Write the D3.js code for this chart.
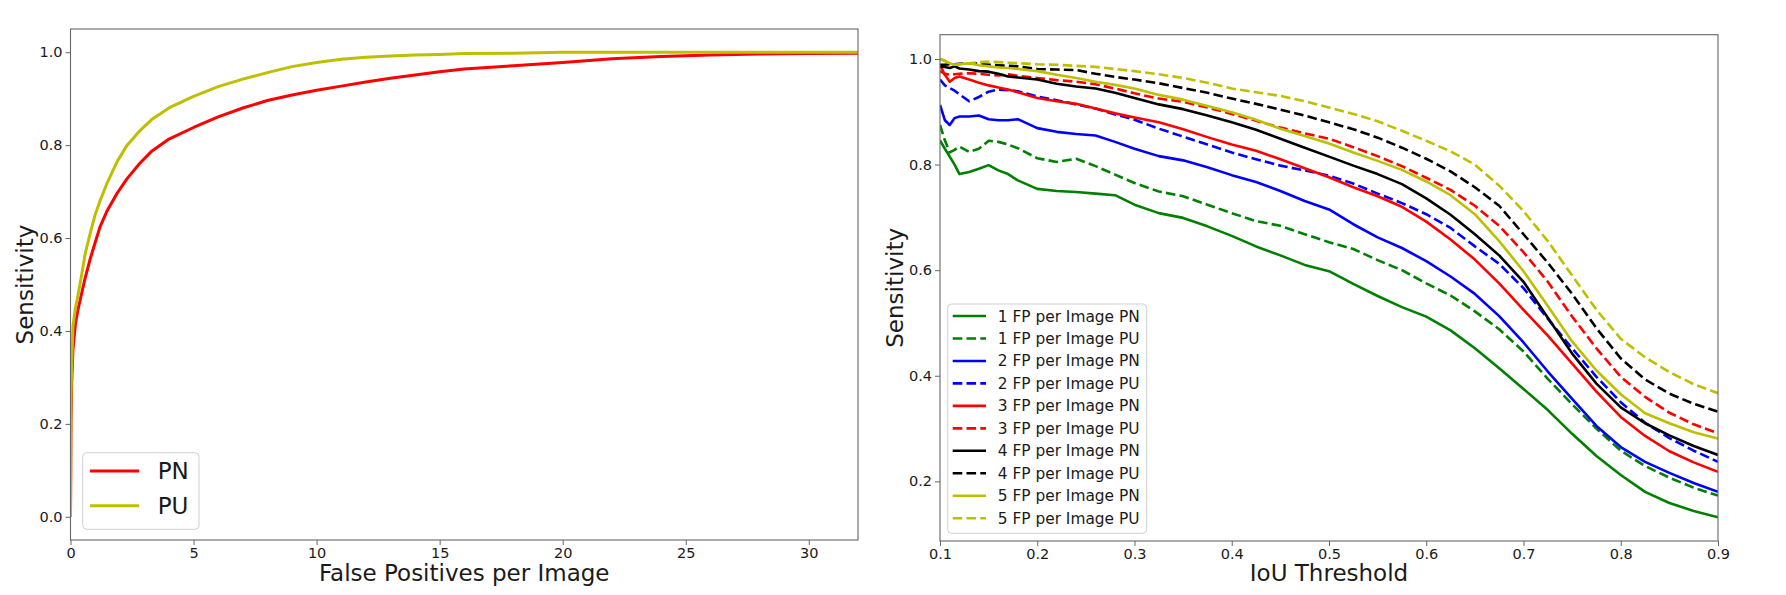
<!DOCTYPE html>
<meta charset="utf-8">
<style>

body {
    margin: 0;
    background: #fff;
}

text {
    font-family: 'DejaVu Sans', sans-serif;
    fill: #1a1a1a;
}

.axis text {
    font-size: 14.5px;
}

.axis path,
.axis line {
    stroke: #666;
}

.frame {
    fill: none;
    stroke: #666;
    stroke-width: 1.1;
}

.curve {
    fill: none;
    stroke-linejoin: round;
}

</style>
<svg id="charts" width="1786" height="595"></svg>
<script src="https://d3js.org/d3.v7.min.js"></script>

<script>

    // left panel: sensitivity vs false positives per image
    var fpPerImage = [0, 0.02, 0.05, 0.1, 0.2, 0.3, 0.45, 0.6, 0.8, 1.0, 1.2, 1.5, 1.9, 2.3, 2.8, 3.3, 4, 5, 6, 7, 8, 9, 10, 11, 12, 13, 14, 15, 16, 18, 20, 22, 24, 26, 28, 30, 32];
    var frocPN = [0, 0.2, 0.29, 0.36, 0.415, 0.445, 0.48, 0.515, 0.555, 0.59, 0.624, 0.66, 0.697, 0.728, 0.76, 0.787, 0.813, 0.838, 0.861, 0.88, 0.896, 0.908, 0.918, 0.927, 0.936, 0.944, 0.951, 0.958, 0.964, 0.971, 0.978, 0.986, 0.991, 0.994, 0.996, 0.997, 0.998];
    var frocPU = [0, 0.25, 0.33, 0.41, 0.45, 0.475, 0.52, 0.567, 0.61, 0.65, 0.68, 0.72, 0.765, 0.8, 0.83, 0.855, 0.88, 0.905, 0.926, 0.942, 0.956, 0.969, 0.978, 0.985, 0.989, 0.992, 0.994, 0.995, 0.997, 0.998, 1.0, 1.0, 1.0, 1.0, 1.0, 1.0, 1.0];
    var fpTicks = [0, 5, 10, 15, 20, 25, 30];
    var sensTicksLeft = [0.0, 0.2, 0.4, 0.6, 0.8, 1.0];

    // right panel: sensitivity vs IoU threshold
    var iouThreshold = [0.100, 0.105, 0.110, 0.115, 0.120, 0.130, 0.140, 0.150, 0.160, 0.170, 0.180, 0.200, 0.220, 0.240, 0.260, 0.280, 0.300, 0.325, 0.350, 0.375, 0.400, 0.425, 0.450, 0.475, 0.500, 0.525, 0.550, 0.575, 0.600, 0.625, 0.650, 0.675, 0.700, 0.725, 0.750, 0.775, 0.800, 0.825, 0.850, 0.875, 0.900];
    var fp1PN = [0.846, 0.830, 0.815, 0.800, 0.782, 0.786, 0.792, 0.799, 0.789, 0.782, 0.770, 0.754, 0.750, 0.748, 0.745, 0.742, 0.724, 0.708, 0.699, 0.683, 0.665, 0.645, 0.628, 0.610, 0.598, 0.574, 0.551, 0.530, 0.512, 0.486, 0.452, 0.414, 0.375, 0.335, 0.290, 0.248, 0.212, 0.180, 0.159, 0.144, 0.132];
    var fp1PU = [0.875, 0.846, 0.823, 0.828, 0.834, 0.824, 0.830, 0.845, 0.843, 0.838, 0.831, 0.812, 0.805, 0.811, 0.797, 0.781, 0.765, 0.749, 0.740, 0.724, 0.708, 0.693, 0.684, 0.668, 0.653, 0.640, 0.619, 0.600, 0.575, 0.552, 0.522, 0.488, 0.446, 0.394, 0.346, 0.300, 0.258, 0.229, 0.207, 0.188, 0.173];
    var fp2PN = [0.913, 0.884, 0.875, 0.888, 0.891, 0.891, 0.893, 0.886, 0.884, 0.884, 0.886, 0.869, 0.862, 0.858, 0.855, 0.843, 0.830, 0.816, 0.808, 0.795, 0.780, 0.767, 0.750, 0.731, 0.715, 0.687, 0.662, 0.642, 0.617, 0.588, 0.555, 0.513, 0.463, 0.408, 0.356, 0.305, 0.265, 0.237, 0.216, 0.197, 0.180];
    var fp2PU = [0.961, 0.950, 0.945, 0.940, 0.933, 0.920, 0.928, 0.938, 0.942, 0.941, 0.939, 0.929, 0.922, 0.914, 0.906, 0.895, 0.885, 0.868, 0.853, 0.838, 0.823, 0.810, 0.798, 0.789, 0.779, 0.764, 0.745, 0.727, 0.706, 0.680, 0.645, 0.612, 0.566, 0.508, 0.452, 0.398, 0.350, 0.311, 0.282, 0.258, 0.237];
    var fp3PN = [0.989, 0.970, 0.957, 0.964, 0.967, 0.961, 0.955, 0.950, 0.946, 0.942, 0.937, 0.926, 0.920, 0.915, 0.906, 0.897, 0.889, 0.880, 0.867, 0.852, 0.838, 0.826, 0.810, 0.793, 0.776, 0.757, 0.740, 0.720, 0.692, 0.658, 0.620, 0.575, 0.525, 0.476, 0.423, 0.370, 0.322, 0.286, 0.257, 0.236, 0.218];
    var fp3PU = [0.977, 0.972, 0.970, 0.971, 0.972, 0.973, 0.972, 0.970, 0.969, 0.971, 0.968, 0.964, 0.960, 0.957, 0.952, 0.944, 0.935, 0.925, 0.919, 0.908, 0.896, 0.883, 0.870, 0.859, 0.849, 0.833, 0.816, 0.797, 0.775, 0.752, 0.722, 0.684, 0.634, 0.578, 0.512, 0.452, 0.398, 0.360, 0.330, 0.308, 0.291];
    var fp4PN = [0.986, 0.985, 0.983, 0.986, 0.982, 0.980, 0.977, 0.976, 0.972, 0.967, 0.965, 0.961, 0.953, 0.948, 0.944, 0.936, 0.926, 0.914, 0.905, 0.893, 0.880, 0.866, 0.849, 0.832, 0.815, 0.798, 0.782, 0.763, 0.736, 0.705, 0.668, 0.628, 0.578, 0.510, 0.442, 0.385, 0.340, 0.310, 0.287, 0.267, 0.250];
    var fp4PU = [0.989, 0.989, 0.990, 0.990, 0.991, 0.992, 0.991, 0.989, 0.988, 0.987, 0.986, 0.981, 0.980, 0.979, 0.972, 0.966, 0.961, 0.954, 0.945, 0.936, 0.925, 0.915, 0.904, 0.893, 0.880, 0.867, 0.851, 0.832, 0.811, 0.787, 0.757, 0.722, 0.668, 0.614, 0.555, 0.490, 0.433, 0.393, 0.366, 0.347, 0.332];
    var fp5PN = [1.000, 0.996, 0.992, 0.989, 0.990, 0.992, 0.988, 0.986, 0.984, 0.983, 0.981, 0.977, 0.970, 0.964, 0.957, 0.951, 0.944, 0.932, 0.923, 0.911, 0.899, 0.885, 0.868, 0.854, 0.840, 0.823, 0.807, 0.790, 0.768, 0.742, 0.706, 0.655, 0.598, 0.532, 0.465, 0.410, 0.365, 0.329, 0.310, 0.293, 0.281];
    var fp5PU = [1.000, 0.997, 0.991, 0.989, 0.990, 0.992, 0.994, 0.995, 0.994, 0.993, 0.992, 0.990, 0.989, 0.987, 0.985, 0.981, 0.977, 0.971, 0.964, 0.955, 0.944, 0.937, 0.930, 0.920, 0.908, 0.896, 0.882, 0.864, 0.845, 0.825, 0.800, 0.760, 0.712, 0.655, 0.590, 0.525, 0.470, 0.435, 0.407, 0.384, 0.367];
    var iouTicks = [0.1, 0.2, 0.3, 0.4, 0.5, 0.6, 0.7, 0.8, 0.9];
    var sensTicksRight = [0.2, 0.4, 0.6, 0.8, 1.0];

    var iouSeries = [
        {name: "1 FP per Image PN", values: fp1PN, color: "#008000", dashed: false},
        {name: "1 FP per Image PU", values: fp1PU, color: "#008000", dashed: true},
        {name: "2 FP per Image PN", values: fp2PN, color: "#0000ff", dashed: false},
        {name: "2 FP per Image PU", values: fp2PU, color: "#0000ff", dashed: true},
        {name: "3 FP per Image PN", values: fp3PN, color: "#ff0000", dashed: false},
        {name: "3 FP per Image PU", values: fp3PU, color: "#ff0000", dashed: true},
        {name: "4 FP per Image PN", values: fp4PN, color: "#000000", dashed: false},
        {name: "4 FP per Image PU", values: fp4PU, color: "#000000", dashed: true},
        {name: "5 FP per Image PN", values: fp5PN, color: "#bfbf00", dashed: false},
        {name: "5 FP per Image PU", values: fp5PU, color: "#bfbf00", dashed: true}
    ];

    var frocSeries = [
        {name: "PN", values: frocPN, color: "#ff0000"},
        {name: "PU", values: frocPU, color: "#bfbf00"}
    ];

    var translate = function(left, top) {
        return "translate(" + left + "," + top + ")";
    };

    var svg = d3.select("#charts");
    svg.append("rect").attr("width", 1786).attr("height", 595).attr("fill", "#fff");

    // ---------- left panel ----------
    var leftBox = {left: 70.5, top: 29, right: 858, bottom: 540};

    var fpScale = d3.scaleLinear().domain([0, 32]).range([leftBox.left, leftBox.right]);
    var leftSensScale = d3.scaleLinear().domain([-0.05, 1.05]).range([leftBox.bottom, leftBox.top]);

    svg.append("clipPath").attr("id", "clipLeft")
        .append("rect")
        .attr("x", leftBox.left).attr("y", leftBox.top)
        .attr("width", leftBox.right - leftBox.left).attr("height", leftBox.bottom - leftBox.top);

    var frocLine = d3.line()
        .x(function(d, i) { return fpScale(fpPerImage[i]); })
        .y(function(d) { return leftSensScale(d); });

    svg.append("g").attr("clip-path", "url(#clipLeft)")
        .selectAll("path")
        .data(frocSeries)
        .enter().append("path")
        .attr("class", "curve")
        .attr("stroke", function(d) { return d.color; })
        .attr("stroke-width", 3)
        .attr("d", function(d) { return frocLine(d.values); });

    svg.append("g")
        .attr("class", "axis")
        .attr("transform", translate(0, leftBox.bottom))
        .call(d3.axisBottom(fpScale).tickValues(fpTicks).tickSize(5).tickPadding(3).tickFormat(d3.format("d")))
        .call(function(g) { g.select(".domain").remove(); });

    svg.append("g")
        .attr("class", "axis")
        .attr("transform", translate(leftBox.left, 0))
        .call(d3.axisLeft(leftSensScale).tickValues(sensTicksLeft).tickSize(5).tickPadding(3).tickFormat(d3.format(".1f")))
        .call(function(g) { g.select(".domain").remove(); });

    svg.append("rect")
        .attr("class", "frame")
        .attr("x", leftBox.left).attr("y", leftBox.top)
        .attr("width", leftBox.right - leftBox.left).attr("height", leftBox.bottom - leftBox.top);

    svg.append("text")
        .attr("x", (leftBox.left + leftBox.right) / 2)
        .attr("y", 581)
        .attr("text-anchor", "middle")
        .style("font-size", "23px")
        .text("False Positives per Image");

    svg.append("text")
        .attr("transform", translate(33, (leftBox.top + leftBox.bottom) / 2) + " rotate(-90)")
        .attr("text-anchor", "middle")
        .style("font-size", "23px")
        .text("Sensitivity");

    // legend of the left panel
    var leftLegend = svg.append("g").attr("transform", translate(82.7, 452.7));
    leftLegend.append("rect")
        .attr("width", 116.3).attr("height", 76.6)
        .attr("rx", 4)
        .attr("fill", "#fff").attr("fill-opacity", 0.8)
        .attr("stroke", "#d0d0d0");

    var leftItems = leftLegend.selectAll(".item")
        .data(frocSeries)
        .enter().append("g")
        .attr("class", "item")
        .attr("transform", function(d, i) { return translate(0, 18.3 + i * 34.7); });

    leftItems.append("line")
        .attr("x1", 7.3).attr("x2", 56.5)
        .attr("stroke", function(d) { return d.color; })
        .attr("stroke-width", 3);

    leftItems.append("text")
        .attr("x", 75)
        .attr("dy", "0.36em")
        .style("font-size", "23px")
        .text(function(d) { return d.name; });

    // ---------- right panel ----------
    var rightBox = {left: 940, top: 34.7, right: 1718, bottom: 541};

    var iouScale = d3.scaleLinear().domain([0.1, 0.9]).range([rightBox.left, rightBox.right]);
    var rightSensScale = d3.scaleLinear().domain([0.087, 1.046]).range([rightBox.bottom, rightBox.top]);

    svg.append("clipPath").attr("id", "clipRight")
        .append("rect")
        .attr("x", rightBox.left).attr("y", rightBox.top)
        .attr("width", rightBox.right - rightBox.left).attr("height", rightBox.bottom - rightBox.top);

    var iouLine = d3.line()
        .x(function(d, i) { return iouScale(iouThreshold[i]); })
        .y(function(d) { return rightSensScale(d); });

    svg.append("g").attr("clip-path", "url(#clipRight)")
        .selectAll("path")
        .data(iouSeries)
        .enter().append("path")
        .attr("class", "curve")
        .attr("stroke", function(d) { return d.color; })
        .attr("stroke-width", 2.6)
        .attr("stroke-dasharray", function(d) { return d.dashed ? "9.6,4.2" : null; })
        .attr("d", function(d) { return iouLine(d.values); });

    svg.append("g")
        .attr("class", "axis")
        .attr("transform", translate(0, rightBox.bottom))
        .call(d3.axisBottom(iouScale).tickValues(iouTicks).tickSize(5).tickPadding(3).tickFormat(d3.format(".1f")))
        .call(function(g) { g.select(".domain").remove(); });

    svg.append("g")
        .attr("class", "axis")
        .attr("transform", translate(rightBox.left, 0))
        .call(d3.axisLeft(rightSensScale).tickValues(sensTicksRight).tickSize(5).tickPadding(3).tickFormat(d3.format(".1f")))
        .call(function(g) { g.select(".domain").remove(); });

    svg.append("rect")
        .attr("class", "frame")
        .attr("x", rightBox.left).attr("y", rightBox.top)
        .attr("width", rightBox.right - rightBox.left).attr("height", rightBox.bottom - rightBox.top);

    svg.append("text")
        .attr("x", (rightBox.left + rightBox.right) / 2)
        .attr("y", 581)
        .attr("text-anchor", "middle")
        .style("font-size", "23px")
        .text("IoU Threshold");

    svg.append("text")
        .attr("transform", translate(903, (rightBox.top + rightBox.bottom) / 2) + " rotate(-90)")
        .attr("text-anchor", "middle")
        .style("font-size", "23px")
        .text("Sensitivity");

    // legend of the right panel
    var rightLegend = svg.append("g").attr("transform", translate(947.7, 304));
    rightLegend.append("rect")
        .attr("width", 199).attr("height", 229.3)
        .attr("rx", 4)
        .attr("fill", "#fff").attr("fill-opacity", 0.8)
        .attr("stroke", "#d0d0d0");

    var rightItems = rightLegend.selectAll(".item")
        .data(iouSeries)
        .enter().append("g")
        .attr("class", "item")
        .attr("transform", function(d, i) { return translate(0, 12 + i * 22.47); });

    rightItems.append("line")
        .attr("x1", 5).attr("x2", 38.3)
        .attr("stroke", function(d) { return d.color; })
        .attr("stroke-width", 2.6)
        .attr("stroke-dasharray", function(d) { return d.dashed ? "9.6,4.2" : null; });

    rightItems.append("text")
        .attr("x", 50)
        .attr("dy", "0.36em")
        .style("font-size", "15.4px")
        .text(function(d) { return d.name; });

</script>
